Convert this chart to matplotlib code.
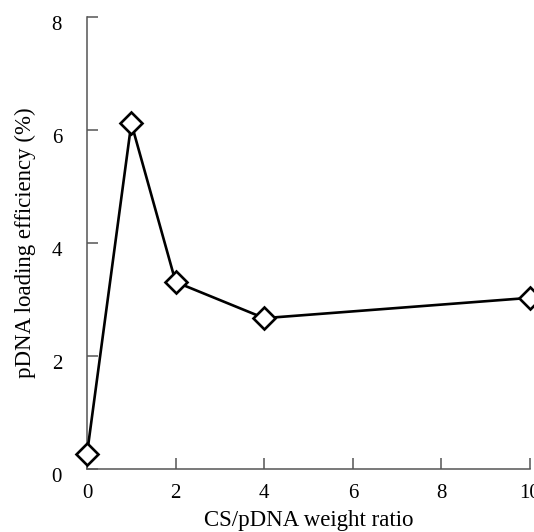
import matplotlib
matplotlib.use('Agg')
import matplotlib.pyplot as plt
from matplotlib.transforms import ScaledTranslation

plt.rcParams['font.family'] = ['Liberation Serif', 'DejaVu Serif']

# CS/pDNA weight ratio vs loading efficiency
ratio = [0, 1, 2, 4, 10]
efficiency = [0.27, 6.12, 3.31, 2.67, 3.03]

xticks = [0, 2, 4, 6, 8, 10]
yticks = [0, 2, 4, 6, 8]

fig = plt.figure(figsize=(5.34, 5.32), dpi=100)
ax = fig.add_axes([0.163, 0.1184, 0.8295, 0.8496])

ax.plot(ratio, efficiency, color='black', lw=1.9, marker='D', markersize=11.5,
        markerfacecolor='white', markeredgecolor='black', markeredgewidth=1.9,
        clip_on=False, zorder=3)

ax.set_xlim(0, 10)
ax.set_ylim(0, 8)
ax.set_xticks(xticks)
ax.set_yticks(yticks)

for s in ['top', 'right']:
    ax.spines[s].set_visible(False)
for s in ['left', 'bottom']:
    ax.spines[s].set_color('#555555')
    ax.spines[s].set_linewidth(1.1)

ax.tick_params(axis='both', direction='in', length=8, width=1.1,
               color='#555555', labelsize=15)
ax.tick_params(axis='x', pad=11)
ax.tick_params(axis='y', pad=18)

# y tick labels sit a bit below their ticks in the original
shift = ScaledTranslation(0, -4 / 72, fig.dpi_scale_trans)
for lab in ax.get_yticklabels():
    lab.set_transform(lab.get_transform() + shift)

ax.set_xlabel('CS/pDNA weight ratio', fontsize=16.5, labelpad=5)
ax.set_ylabel('pDNA loading efficiency (%)', fontsize=16.5, labelpad=11)

fig.savefig('out.png', dpi=100)
